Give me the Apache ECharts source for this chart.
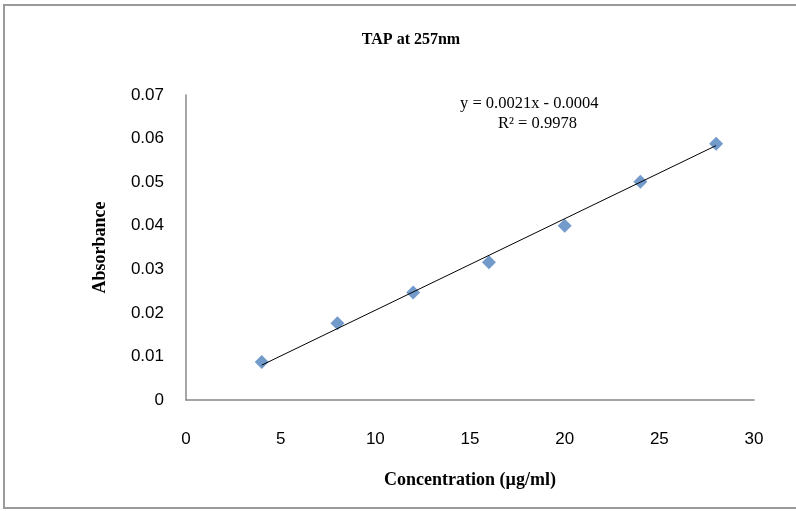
<!DOCTYPE html>
<html>
<head>
<meta charset="utf-8">
<script src="https://cdn.jsdelivr.net/npm/echarts@6/dist/echarts.min.js"></script>
<style>
  html, body { margin: 0; padding: 0; background: #fff; }
  #chart { width: 796px; height: 511px; }
</style>
</head>
<body>
<div id="chart"></div>
<script>
// 数据
var concentration = [4, 8, 12, 16, 20, 24, 28];
var absorbance = [0.0087, 0.0176, 0.0247, 0.0316, 0.0400, 0.0501, 0.0588];
var slope = 0.0021;
var intercept = -0.0004;
var rSquared = 0.9978;
var xTicks = [0, 30, 5];
var yTicks = [0, 0.07, 0.01];

// 趋势线两端点
var trendData = [
  [concentration[0], slope * concentration[0] + intercept],
  [concentration[concentration.length - 1], slope * concentration[concentration.length - 1] + intercept]
];

var myChart = echarts.init(document.getElementById("chart"));
var options = {
  animation: false,
  backgroundColor: "#ffffff",
  title: {
    text: "TAP at 257nm",
    left: 406,
    top: 27,
    textAlign: "center",
    textStyle: {
      fontFamily: "Liberation Serif",
      fontWeight: "bold",
      fontSize: 16,
      color: "#000"
    }
  },
  grid: { left: 186, right: 42, top: 95, bottom: 111 },
  xAxis: {
    type: "value",
    min: xTicks[0],
    max: xTicks[1],
    interval: xTicks[2],
    name: "Concentration (µg/ml)",
    nameLocation: "middle",
    nameGap: 71,
    nameTextStyle: {
      fontFamily: "Liberation Serif",
      fontWeight: "bold",
      fontSize: 18,
      color: "#000"
    },
    axisLine: { lineStyle: { color: "#888", width: 1.5 } },
    axisTick: { show: false },
    splitLine: { show: false },
    axisLabel: {
      margin: 31,
      fontFamily: "Liberation Sans Narrow, Liberation Sans",
      fontSize: 17,
      color: "#000"
    }
  },
  yAxis: {
    type: "value",
    min: yTicks[0],
    max: yTicks[1],
    interval: yTicks[2],
    name: "Absorbance",
    nameLocation: "middle",
    nameGap: 77,
    nameTextStyle: {
      fontFamily: "Liberation Serif",
      fontWeight: "bold",
      fontSize: 18,
      color: "#000"
    },
    axisLine: { show: true, lineStyle: { color: "#888", width: 1.5 } },
    axisTick: { show: false },
    splitLine: { show: false },
    axisLabel: {
      margin: 22,
      fontFamily: "Liberation Sans Narrow, Liberation Sans",
      fontSize: 17,
      color: "#000",
      formatter: function (v) {
        return v === 0 ? "0" : v.toFixed(2);
      }
    }
  },
  graphic: [
    {
      type: "rect",
      silent: true,
      shape: { x: 4, y: 5, width: 800, height: 503 },
      style: { fill: "none", stroke: "#9a9a9a", lineWidth: 2 }
    },
    {
      type: "text",
      left: 460,
      top: 95,
      style: {
        text: "y = " + slope + "x - " + Math.abs(intercept).toFixed(4),
        fontFamily: "Liberation Serif",
        fontSize: 16.5,
        fill: "#000"
      }
    },
    {
      type: "text",
      left: 498,
      top: 115,
      style: {
        text: "R² = " + rSquared,
        fontFamily: "Liberation Serif",
        fontSize: 16.5,
        fill: "#000"
      }
    }
  ],
  series: [
    {
      type: "line",
      data: trendData,
      symbol: "none",
      lineStyle: { color: "#000", width: 1 },
      z: 3
    },
    {
      type: "scatter",
      data: concentration.map(function (c, i) { return [c, absorbance[i]]; }),
      symbol: "path://M0,-1L1,0L0,1L-1,0Z",
      symbolSize: 14,
      itemStyle: { color: "#4F81BD" },
      z: 2
    }
  ]
};
myChart.setOption(options);
</script>
</body>
</html>
